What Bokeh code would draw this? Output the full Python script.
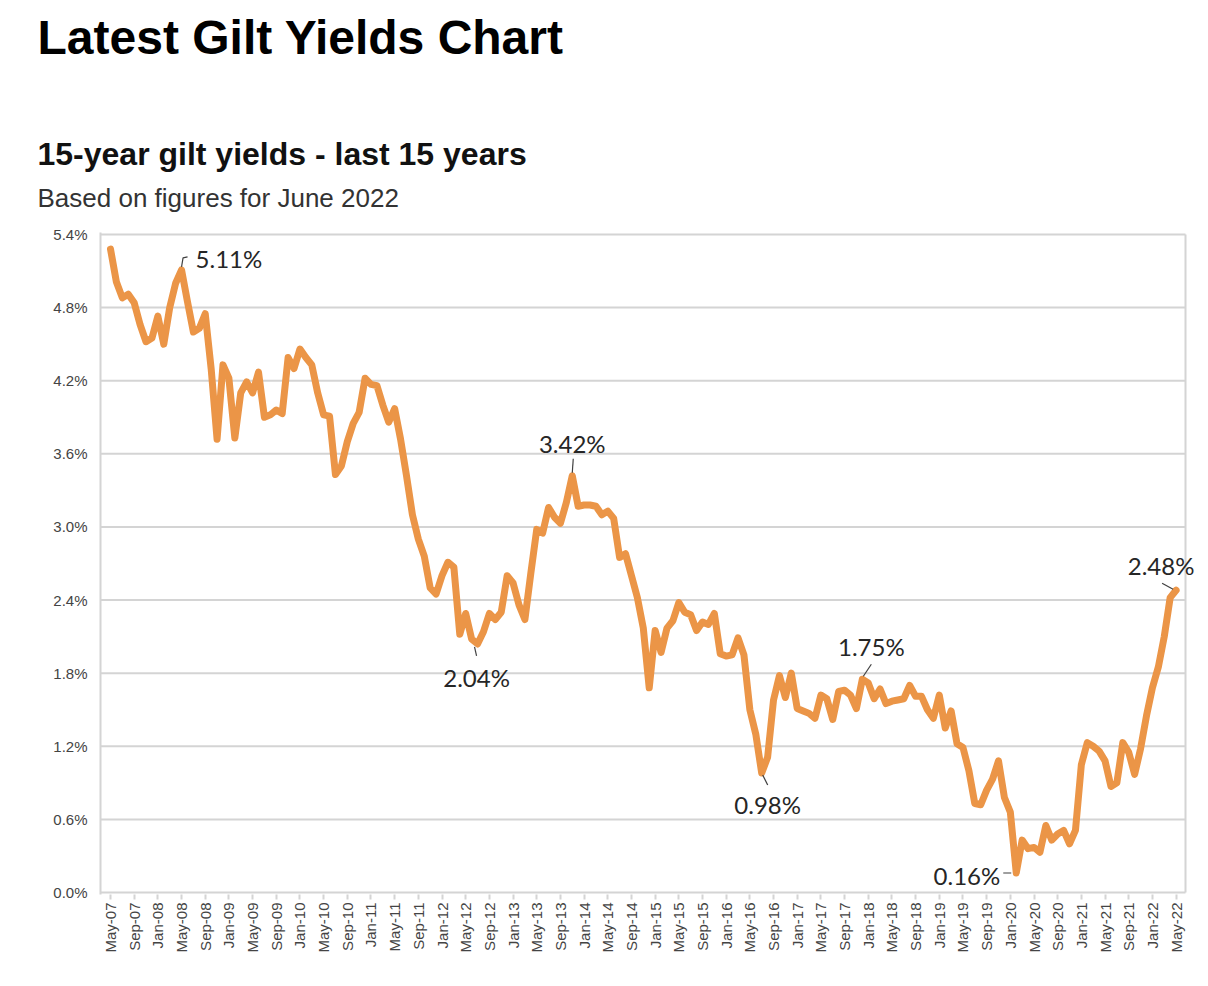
import math
from bokeh.plotting import figure
from bokeh.layouts import column
from bokeh.models import Label, FixedTicker, PrintfTickFormatter, Range1d
from bokeh.embed import file_html
from bokeh.resources import INLINE

# ---------------- data ----------------
title_text = "Latest Gilt Yields Chart"
subtitle_text = "15-year gilt yields - last 15 years"
note_text = "Based on figures for June 2022"

# monthly 15-year gilt yield (%), May-07 .. May-22
yields = [
    5.28, 5.01, 4.88, 4.91, 4.84, 4.66, 4.52, 4.55, 4.73, 4.50,
    4.80, 5.00, 5.11, 4.85, 4.60, 4.63, 4.75, 4.30, 3.72, 4.33,
    4.22, 3.73, 4.10, 4.19, 4.10, 4.27, 3.90, 3.92, 3.96, 3.93,
    4.39, 4.30, 4.46, 4.39, 4.33, 4.10, 3.92, 3.91, 3.43, 3.50,
    3.70, 3.85, 3.94, 4.22, 4.17, 4.16, 4.00, 3.86, 3.97, 3.72,
    3.42, 3.10, 2.90, 2.76, 2.50, 2.45, 2.60, 2.71, 2.67, 2.12,
    2.29, 2.08, 2.04, 2.14, 2.29, 2.24, 2.30, 2.60, 2.54, 2.36,
    2.24, 2.62, 2.98, 2.95, 3.16, 3.08, 3.03, 3.20, 3.42, 3.17,
    3.18, 3.18, 3.17, 3.10, 3.13, 3.07, 2.75, 2.78, 2.60, 2.42,
    2.17, 1.68, 2.15, 1.97, 2.17, 2.23, 2.38, 2.30, 2.28, 2.15,
    2.22, 2.20, 2.29, 1.96, 1.94, 1.95, 2.09, 1.95, 1.50, 1.30,
    0.98, 1.11, 1.58, 1.78, 1.60, 1.80, 1.51, 1.49, 1.47, 1.43,
    1.62, 1.59, 1.42, 1.65, 1.66, 1.62, 1.51, 1.75, 1.72, 1.59,
    1.67, 1.55, 1.57, 1.58, 1.59, 1.70, 1.61, 1.61, 1.50, 1.43,
    1.62, 1.35, 1.49, 1.22, 1.19, 1.00, 0.73, 0.72, 0.84, 0.93,
    1.08, 0.78, 0.66, 0.16, 0.43, 0.36, 0.37, 0.33, 0.55, 0.43,
    0.48, 0.51, 0.40, 0.51, 1.05, 1.23, 1.20, 1.16, 1.08, 0.87,
    0.90, 1.23, 1.15, 0.97, 1.18, 1.45, 1.68, 1.85, 2.10, 2.42,
    2.48,
]

tick_labels = [
    "May-07", "Sep-07", "Jan-08", "May-08", "Sep-08", "Jan-09", "May-09", "Sep-09",
    "Jan-10", "May-10", "Sep-10", "Jan-11", "May-11", "Sep-11", "Jan-12", "May-12",
    "Sep-12", "Jan-13", "May-13", "Sep-13", "Jan-14", "May-14", "Sep-14", "Jan-15",
    "May-15", "Sep-15", "Jan-16", "May-16", "Sep-16", "Jan-17", "May-17", "Sep-17",
    "Jan-18", "May-18", "Sep-18", "Jan-19", "May-19", "Sep-19", "Jan-20", "May-20",
    "Sep-20", "Jan-21", "May-21", "Sep-21", "Jan-22", "May-22",
]
y_ticks = [0.0, 0.6, 1.2, 1.8, 2.4, 3.0, 3.6, 4.2, 4.8, 5.4]

# months (index into yields) that carry a value call-out
annot_months = [12, 78, 62, 110, 127, 153, 180]

# ---------------- layout / style ----------------
W = 1208
HEAD_H = 220                  # height of the heading strip
H = 986 - HEAD_H              # height of the chart figure
BL, BR, BT, BB = 100, 2, 12, 92
PPM = 1085 / (181.59 + 1.69)  # pixels per month
PPP = 658 / 5.4               # pixels per percentage point
X0 = -1.69
XB = 181.59                   # right edge of the plot box
X1 = X0 + (W - BL - BR) / PPM
Y0 = -2 / PPP
Y1 = 5.4 + 2 / PPP

LINE_COLOR = "#EB9547"
GRID_COLOR = "#D4D4D4"
TICK_TEXT = "#444444"

months = list(range(len(yields)))

# ---------- heading strip ----------
head = figure(width=W, height=HEAD_H, output_backend="svg", toolbar_location=None,
              title=None, x_range=Range1d(0, W), y_range=Range1d(HEAD_H, 0),
              x_axis_type=None, y_axis_type=None, min_border=0)
head.frame_align = False
head.outline_line_color = None
head.background_fill_color = "white"
head.border_fill_color = "white"
head.xgrid.visible = False
head.ygrid.visible = False


def add_head(px, py, txt, size, style, color):
    head.add_layout(Label(x=px, y=py, text=txt, text_font="Liberation Sans",
                          text_font_size=size, text_font_style=style,
                          text_color=color, text_align="left",
                          text_baseline="alphabetic"))


add_head(37, 37, title_text, "48px", "bold", "#000000")
add_head(37, 153, subtitle_text, "32px", "bold", "#111111")
add_head(37, 197, note_text, "26px", "normal", "#333333")

# ---------- chart ----------
p = figure(width=W, height=H, output_backend="svg", toolbar_location=None,
           title=None, x_range=Range1d(X0, X1), y_range=Range1d(Y0, Y1),
           min_border_left=BL, min_border_right=BR,
           min_border_top=BT, min_border_bottom=BB)
p.frame_align = False
p.background_fill_color = "white"
p.border_fill_color = "white"
p.outline_line_color = None

# axes
p.yaxis.ticker = FixedTicker(ticks=y_ticks)
p.yaxis.formatter = PrintfTickFormatter(format="%.1f%%")
p.yaxis.major_tick_out = 0
p.yaxis.major_tick_in = 0
p.yaxis.minor_tick_out = 0
p.yaxis.minor_tick_in = 0
p.yaxis.major_label_standoff = 13
p.yaxis.axis_line_color = GRID_COLOR
p.yaxis.axis_line_width = 2
p.yaxis.major_label_text_font = "Liberation Sans"
p.yaxis.major_label_text_font_size = "15px"
p.yaxis.major_label_text_color = TICK_TEXT

xt = [4 * k for k in range(len(tick_labels))]
p.xaxis.ticker = FixedTicker(ticks=xt)
p.xaxis.major_label_overrides = {t: lab for t, lab in zip(xt, tick_labels)}
p.xaxis.major_label_orientation = math.pi / 2
p.xaxis.major_tick_out = 5
p.xaxis.major_tick_in = 0
p.xaxis.minor_tick_out = 0
p.xaxis.minor_tick_in = 0
p.xaxis.major_tick_line_color = GRID_COLOR
p.xaxis.major_tick_line_width = 2
p.xaxis.major_label_standoff = 3
p.xaxis.axis_line_color = None
p.xaxis.major_label_text_font = "Liberation Sans"
p.xaxis.major_label_text_font_size = "15px"
p.xaxis.major_label_text_color = TICK_TEXT

p.xgrid.grid_line_color = None
p.ygrid.grid_line_color = None

# horizontal gridlines and right edge of the plot box, ending at the box edge
n = len(y_ticks)
p.segment(x0=[X0] * n, y0=y_ticks, x1=[XB] * n, y1=y_ticks,
          line_color=GRID_COLOR, line_width=2)
p.segment(x0=[XB], y0=[y_ticks[0]], x1=[XB], y1=[y_ticks[-1]],
          line_color=GRID_COLOR, line_width=2)

# series
p.line(months, yields, line_color=LINE_COLOR, line_width=7,
       line_join="round", line_cap="round")

# call-outs: text offset (px), alignment, leader points (px offsets from the point)
callout_style = {
    12:  (14, 11, "left",   [(0, 3), (1.5, 12), (6, 13)]),
    78:  (0, 32, "center",  [(0, 3), (1, 17)]),
    62:  (-1, -34, "center", [(-3, -3), (-1, -12)]),
    110: (6, -31, "center", [(1, -2), (6, -12)]),
    127: (9, 33, "center",  [(1, 3), (9, 15)]),
    153: (-16, -2, "right", [(-13, 0), (-5, 0)]),
    180: (-15, 25, "center", [(-14, 7), (-3, 1)]),
}
lx, ly = [], []
for m in annot_months:
    v = yields[m]
    dx, dy, align, pts = callout_style[m]
    p.add_layout(Label(x=m, y=v, x_offset=dx, y_offset=dy, text=f"{v:.2f}%",
                       text_font="Lato", text_font_size="24px",
                       text_color="#262626", text_align=align,
                       text_baseline="middle"))
    lx.append([m + a / PPM for a, b in pts])
    ly.append([v + b / PPP for a, b in pts])
p.multi_line(lx, ly, line_color="#404040", line_width=1.2)

layout = column(head, p, spacing=0)
open("out.html", "w").write(file_html(layout, INLINE))
